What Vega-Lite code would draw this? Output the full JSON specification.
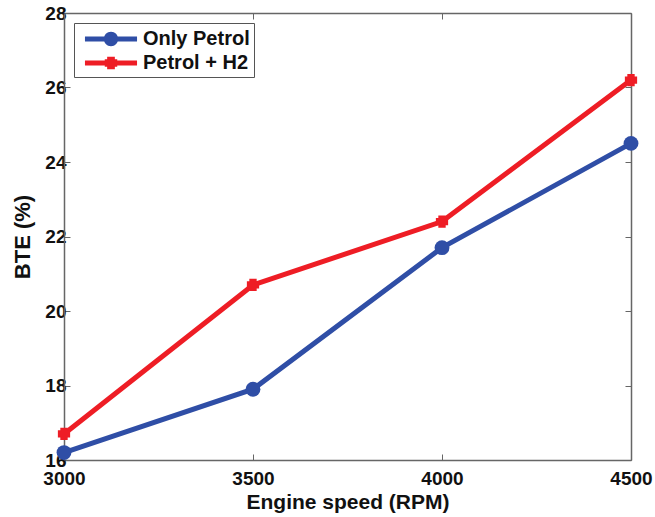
{
  "$schema": "https://vega.github.io/schema/vega-lite/v6.json",
  "width": 567,
  "height": 447,
  "autosize": "none",
  "padding": {"left": 64, "top": 13, "right": 24, "bottom": 57},
  "background": "white",
  "config": {
    "view": {"stroke": null},
    "axis": {
      "grid": false,
      "labelFont": "Liberation Sans",
      "labelFontWeight": "bold",
      "labelFontSize": 19,
      "labelColor": "#111",
      "titleFont": "Liberation Sans",
      "titleFontWeight": "bold",
      "titleColor": "#111",
      "domainColor": "#666",
      "domainWidth": 1.5,
      "tickColor": "#666",
      "tickWidth": 1,
      "tickSize": -6
    }
  },
  "data": {
    "values": [
      {"rpm": 3000, "bte": 16.2, "series": "Only Petrol"},
      {"rpm": 3500, "bte": 17.9, "series": "Only Petrol"},
      {"rpm": 4000, "bte": 21.7, "series": "Only Petrol"},
      {"rpm": 4500, "bte": 24.5, "series": "Only Petrol"},
      {"rpm": 3000, "bte": 16.7, "series": "Petrol + H2"},
      {"rpm": 3500, "bte": 20.7, "series": "Petrol + H2"},
      {"rpm": 4000, "bte": 22.4, "series": "Petrol + H2"},
      {"rpm": 4500, "bte": 26.2, "series": "Petrol + H2"}
    ]
  },
  "layer": [
    {
      "mark": {"type": "line", "strokeWidth": 5, "clip": false},
      "encoding": {
        "x": {"field": "rpm", "type": "quantitative", "scale": {"domain": [3000, 4500], "nice": false, "zero": false},
              "axis": {"values": [3000, 3500, 4000, 4500], "format": "d", "title": "Engine speed (RPM)", "titleFontSize": 21, "labelPadding": 15, "titlePadding": 3, "labelFlush": false}},
        "y": {"field": "bte", "type": "quantitative", "scale": {"domain": [16, 28], "nice": false, "zero": false},
              "axis": {"values": [16, 18, 20, 22, 24, 26, 28], "title": "BTE (%)", "titleFontSize": 22, "labelPadding": 4, "titlePadding": 10}},
        "color": {
          "field": "series", "type": "nominal",
          "scale": {"domain": ["Only Petrol", "Petrol + H2"], "range": ["#2F4EA6", "#EE1D25"]},
          "legend": {
            "title": null,
            "orient": "none",
            "legendX": 10,
            "legendY": 10,
            "fillColor": "white",
            "strokeColor": "#555",
            "padding": 4,
            "labelFont": "Liberation Sans",
            "labelFontWeight": "bold",
            "labelFontSize": 20,
            "labelColor": "#111",
            "labelOffset": 20,
            "symbolOffset": 21,
            "symbolSize": 576,
            "symbolStrokeWidth": 0,
            "rowPadding": 2,
            "encode": {
              "symbols": {
                "update": {
                  "shape": {"signal": "datum.value === 'Only Petrol' ? 'M-2.17,-0.21L2.17,-0.21L2.17,0.21L-2.17,0.21Z M-0.6,0A0.6,0.6 0 1,1 0.6,0A0.6,0.6 0 1,1 -0.6,0Z' : 'M-2.17,-0.21L2.17,-0.21L2.17,0.21L-2.17,0.21Z M-0.32,-0.52L0.32,-0.52L0.32,-0.32L0.52,-0.32L0.52,0.32L0.32,0.32L0.32,0.52L-0.32,0.52L-0.32,0.32L-0.52,0.32L-0.52,-0.32L-0.32,-0.32Z'"},
                  "fill": {"signal": "scale('color', datum.value)"},
                  "fillOpacity": {"value": 1},
                  "opacity": {"value": 1},
                  "strokeWidth": {"value": 0}
                }
              }
            }
          }
        }
      }
    },
    {
      "transform": [{"filter": "datum.series === 'Only Petrol'"}],
      "mark": {"type": "point", "shape": "circle", "filled": true, "size": 220, "opacity": 1, "clip": false, "color": "#2F4EA6"},
      "encoding": {
        "x": {"field": "rpm", "type": "quantitative", "axis": null},
        "y": {"field": "bte", "type": "quantitative", "axis": null}
      }
    },
    {
      "transform": [{"filter": "datum.series === 'Petrol + H2'"}],
      "mark": {"type": "point", "shape": "M-0.6,-1L0.6,-1L0.6,-0.6L1,-0.6L1,0.6L0.6,0.6L0.6,1L-0.6,1L-0.6,0.6L-1,0.6L-1,-0.6L-0.6,-0.6Z", "filled": true, "size": 150, "opacity": 1, "clip": false, "color": "#EE1D25"},
      "encoding": {
        "x": {"field": "rpm", "type": "quantitative", "axis": null},
        "y": {"field": "bte", "type": "quantitative", "axis": null}
      }
    },
    {
      "mark": {"type": "point", "opacity": 0},
      "encoding": {
        "x": {"field": "rpm", "type": "quantitative", "axis": {"orient": "top", "values": [3000, 3500, 4000, 4500], "labels": false, "title": null}},
        "y": {"field": "bte", "type": "quantitative", "axis": {"orient": "right", "values": [16, 18, 20, 22, 24, 26, 28], "labels": false, "title": null}}
      }
    }
  ],
  "resolve": {"axis": {"x": "independent", "y": "independent"}}
}
